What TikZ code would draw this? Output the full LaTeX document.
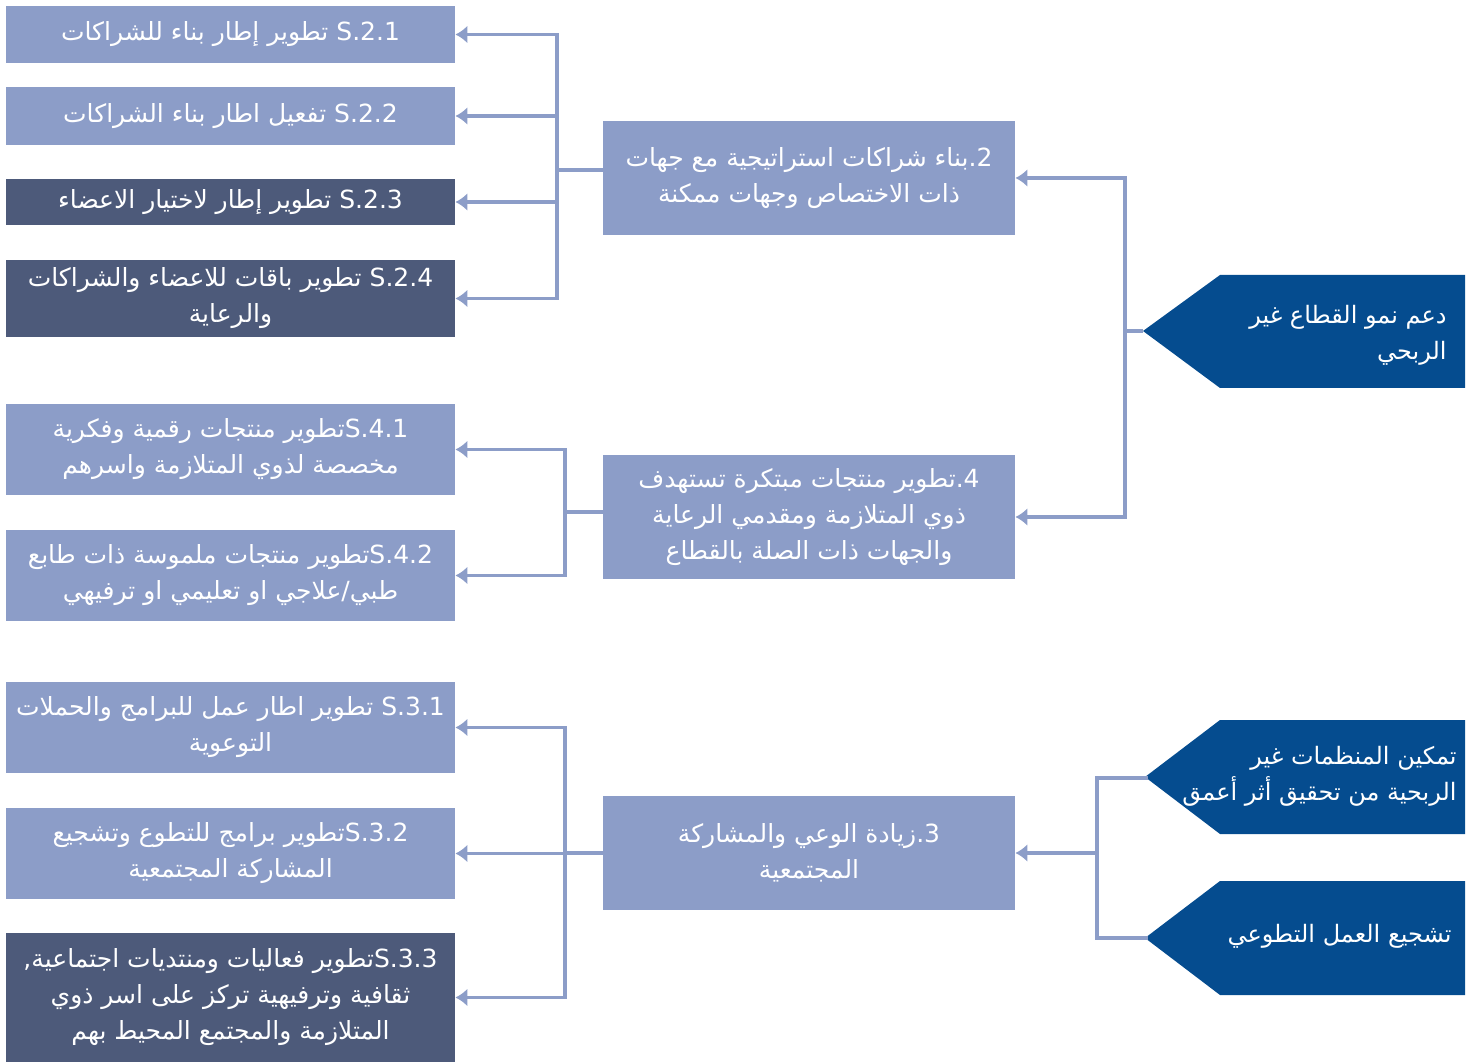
\documentclass[tikz,border=0pt]{standalone}
\usepackage{fontspec}
\newfontfamily\arabicfont[Script=Arabic]{DejaVu Sans}
\TeXXeTstate=1
\usetikzlibrary{arrows.meta}
\definecolor{lightbox}{HTML}{8C9DC8}
\definecolor{darkbox}{HTML}{4D5A7A}
\definecolor{navy}{HTML}{054C8F}
\definecolor{connc}{HTML}{8C9DC8}
\newcommand\arl[1]{\beginR #1\endR}
\newcommand\lat[1]{\beginL #1\endL}
\newcommand\txtfont{\arabicfont\fontsize{12.5}{18}\selectfont}
\newcommand\ptxtfont{\arabicfont\fontsize{12}{18}\selectfont}
\begin{document}
\begin{tikzpicture}[x=0.5pt,y=-0.5pt,
  box/.style={draw=none, inner sep=0pt, minimum width=224.5pt, align=center, text=white, font=\txtfont},
  lbox/.style={box, fill=lightbox},
  dbox/.style={box, fill=darkbox},
  mbox/.style={box, fill=lightbox, minimum width=206pt},
  ptext/.style={align=right, text=white, font=\ptxtfont, inner sep=0pt, anchor=east},
  conn/.style={draw=connc, line width=1.7pt},
  arr/.style={conn, -{Latex[length=6pt,width=9pt]}},
]
\useasboundingbox (0,0) rectangle (1478,1063);

% left column
\node[lbox, minimum height=28.5pt] (s21) at (230.5,34.5) {\arl{\lat{S.2.1} تطوير إطار بناء للشراكات}};
\node[lbox, minimum height=29pt] (s22) at (230.5,116) {\arl{\lat{S.2.2} تفعيل اطار بناء الشراكات}};
\node[dbox, minimum height=23pt] (s23) at (230.5,202) {\arl{\lat{S.2.3} تطوير إطار لاختيار الاعضاء}};
\node[dbox, minimum height=38.5pt] (s24) at (230.5,298.5) {\arl{\lat{S.2.4} تطوير باقات للاعضاء والشراكات}\\\arl{والرعاية}};

\node[lbox, minimum height=45.5pt] (s41) at (230.5,449.5) {\arl{\lat{S.4.1}تطوير منتجات رقمية وفكرية}\\\arl{مخصصة لذوي المتلازمة واسرهم}};
\node[lbox, minimum height=45.5pt] (s42) at (230.5,575.5) {\arl{\lat{S.4.2}تطوير منتجات ملموسة ذات طابع}\\\arl{طبي\kern0pt/\kern0pt علاجي او تعليمي او ترفيهي}};

\node[lbox, minimum height=45.5pt] (s31) at (230.5,727.5) {\arl{\lat{S.3.1} تطوير اطار عمل للبرامج والحملات}\\\arl{التوعوية}};
\node[lbox, minimum height=45.5pt] (s32) at (230.5,853.5) {\arl{\lat{S.3.2}تطوير برامج للتطوع وتشجيع}\\\arl{المشاركة المجتمعية}};
\node[dbox, minimum height=64.5pt] (s33) at (230.5,997.5) {\arl{\lat{S.3.3}تطوير فعاليات ومنتديات اجتماعية\kern0pt,}\\\arl{ثقافية وترفيهية تركز على اسر ذوي}\\\arl{المتلازمة والمجتمع المحيط بهم}};

% middle column
\node[mbox, minimum height=57pt] (b2) at (809,178) {\arl{2\kern0pt.\kern0pt بناء شراكات استراتيجية مع جهات}\\\arl{ذات الاختصاص وجهات ممكنة}};
\node[mbox, minimum height=62pt] (b4) at (809,517) {\arl{4\kern0pt.\kern0pt تطوير منتجات مبتكرة تستهدف}\\\arl{ذوي المتلازمة ومقدمي الرعاية}\\\arl{والجهات ذات الصلة بالقطاع}};
\node[mbox, minimum height=57pt] (b3) at (809,853) {\arl{3\kern0pt.\kern0pt زيادة الوعي والمشاركة}\\\arl{المجتمعية}};

% pentagons
\fill[navy] (1220,275) -- (1465,275) -- (1465,388) -- (1220,388) -- (1143,331) -- cycle;
\coordinate (p1tip) at (1143,331);
\node[ptext] (p1) at (1447,335) {\arl{دعم نمو القطاع غير}\\\arl{الربحي}};

\fill[navy] (1220,720) -- (1465,720) -- (1465,834) -- (1220,834) -- (1145,777) -- cycle;
\coordinate (p2tip) at (1148,778);
\node[ptext] (p2) at (1457,776) {\arl{تمكين المنظمات غير}\\\arl{الربحية من تحقيق أثر أعمق}};

\fill[navy] (1220,881) -- (1465,881) -- (1465,995) -- (1220,995) -- (1145,938) -- cycle;
\coordinate (p3tip) at (1148,938);
\node[ptext] (p3) at (1452,936) {\arl{تشجيع العمل التطوعي}};

% connectors: group 2
\coordinate (j2) at (557,170);
\draw[conn] (j2) -- (j2 -| b2.west);
\draw[arr] (j2) |- (s21.east);
\draw[arr] (j2 |- s22.east) -- (s22.east);
\draw[arr] (j2 |- s23.east) -- (s23.east);
\draw[arr] (j2) |- (s24.east);

% group 4
\coordinate (j4) at (565,512);
\draw[conn] (j4) -- (j4 -| b4.west);
\draw[arr] (j4) |- (s41.east);
\draw[arr] (j4) |- (s42.east);

% group 3
\coordinate (j3) at (565,853);
\draw[conn] (j3) -- (j3 -| b3.west);
\draw[arr] (j3) |- (s31.east);
\draw[arr] (j3 |- s32.east) -- (s32.east);
\draw[arr] (j3) |- (s33.east);

% right bracket 1
\coordinate (r1) at (1125,331);
\draw[conn] (p1tip) -- (r1);
\draw[arr] (r1) |- (b2.east);
\draw[arr] (r1) |- (b4.east);

% right bracket 3
\coordinate (r3) at (1097,853);
\draw[conn] (r3) |- (p2tip);
\draw[conn] (r3) |- (p3tip);
\draw[arr] (r3) -- (b3.east);
\end{tikzpicture}
\end{document}
